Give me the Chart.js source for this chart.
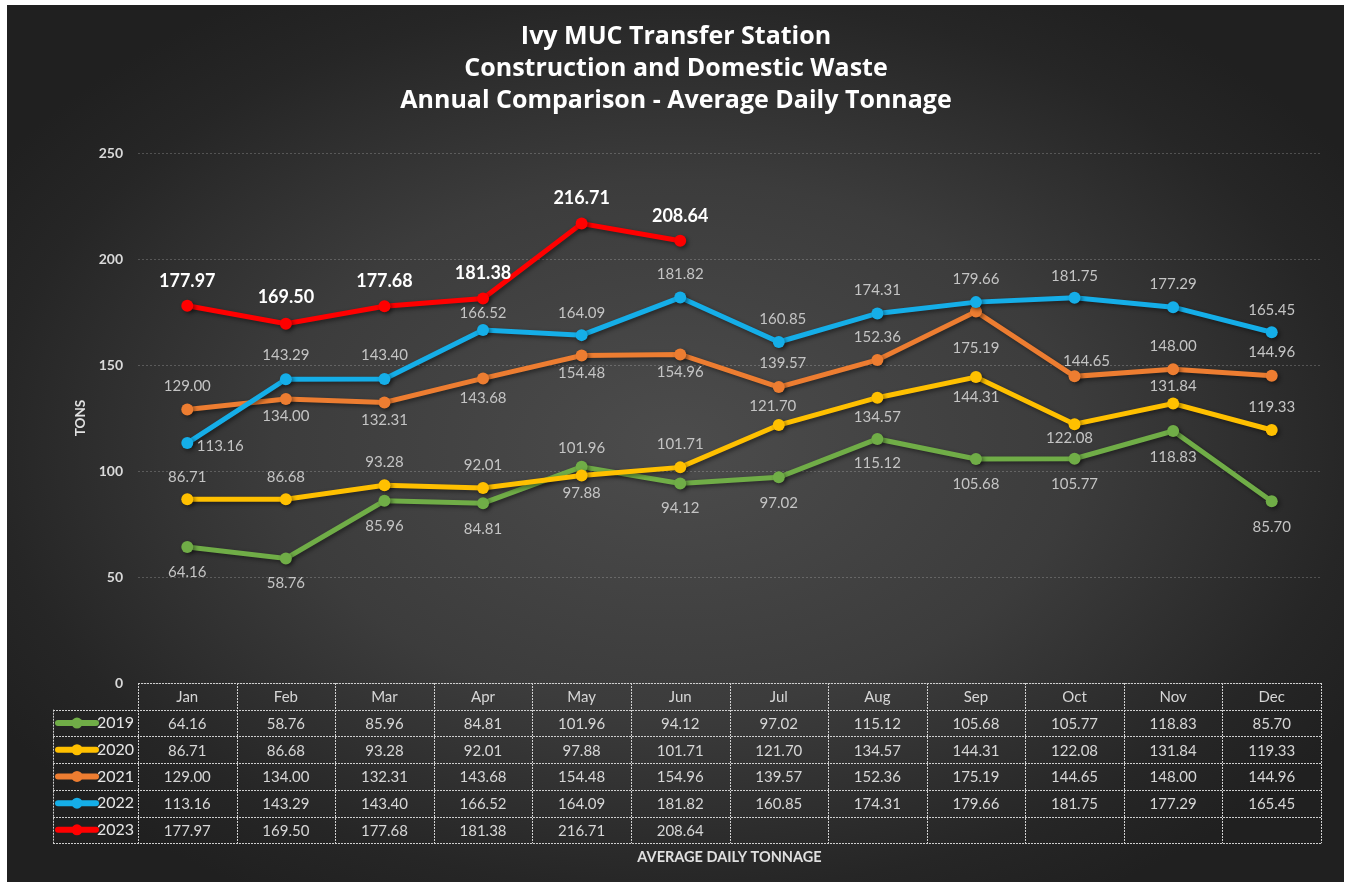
<!DOCTYPE html>
<html>
<head>
<meta charset="utf-8">
<script src="https://cdn.jsdelivr.net/npm/chart.js@4.4.1/dist/chart.umd.min.js"></script>
<style>
  html, body { margin: 0; padding: 0; background: #ffffff; }
  #bg {
    position: absolute; left: 7px; top: 5px; width: 1337px; height: 877px;
    background: radial-gradient(ellipse 60% 60% at 50% 50%, #4c4c4c 0%, #3c3c3c 50%, #262626 85%, #202020 100%);
  }
  #wrap { position: absolute; left: 0; top: 0; width: 1348px; height: 882px; }
</style>
</head>
<body>
<div id="bg"></div>
<div id="wrap"><canvas id="tonnage_chart" width="1348" height="882"></canvas></div>
<script>
const months = ['Jan', 'Feb', 'Mar', 'Apr', 'May', 'Jun', 'Jul', 'Aug', 'Sep', 'Oct', 'Nov', 'Dec'];
const years = ['2019', '2020', '2021', '2022', '2023'];

const tons2019 = [64.16, 58.76, 85.96, 84.81, 101.96, 94.12, 97.02, 115.12, 105.68, 105.77, 118.83, 85.70];
const tons2020 = [86.71, 86.68, 93.28, 92.01, 97.88, 101.71, 121.70, 134.57, 144.31, 122.08, 131.84, 119.33];
const tons2021 = [129.00, 134.00, 132.31, 143.68, 154.48, 154.96, 139.57, 152.36, 175.19, 144.65, 148.00, 144.96];
const tons2022 = [113.16, 143.29, 143.40, 166.52, 164.09, 181.82, 160.85, 174.31, 179.66, 181.75, 177.29, 165.45];
const tons2023 = [177.97, 169.50, 177.68, 181.38, 216.71, 208.64];

const yTicks = [0, 50, 100, 150, 200, 250];

const colors = ['#70ad47', '#ffc000', '#ed7d31', '#15aee8', '#ff0000'];

// label offsets from the point (px), per series
const labelDy = [
  [25, 25, 25, 26, -19, 25, 26, 24, 25, 25, 26, 26],
  [-22, -22, -23, -23, 18, -23, -19, 19, 20, 14, -17, -23],
  [-23, 17, 18, 20, 18, 18, -24, -23, 37, -15, -23, -24],
  [3, -24, -24, -17, -22, -23, -23, -23, -23, -22, -23, -22],
  [-25, -26, -25, -25, -25, -24]
];
const labelDx = [
  [0, 0, 0, 0, 0, 0, 0, 0, 0, 0, 0, 0],
  [0, 0, 0, 0, 0, 0, -6, 0, 0, -5, 0, 0],
  [0, 0, 0, 0, 0, 0, 4, 0, 0, 12, 0, 0],
  [33, 0, 0, 0, 0, 0, 4, 0, 0, 0, 0, 0],
  [0, 0, 0, 0, 0, 0]
];

const allSeries = [tons2019, tons2020, tons2021, tons2022, tons2023];

const datasets = years.map((yr, i) => ({
  label: yr,
  data: allSeries[i],
  borderColor: colors[i],
  backgroundColor: colors[i],
  pointBackgroundColor: colors[i],
  pointBorderColor: colors[i],
  borderWidth: 5,
  pointRadius: 6,
  pointBorderWidth: 0,
  tension: 0,
  order: 5 - i
}));

const shadowPlugin = {
  id: 'lineShadow',
  beforeDatasetDraw(chart) {
    const ctx = chart.ctx;
    ctx.save();
    ctx.shadowColor = 'rgba(0,0,0,0.45)';
    ctx.shadowBlur = 4;
    ctx.shadowOffsetX = 2;
    ctx.shadowOffsetY = 2;
  },
  afterDatasetDraw(chart) {
    chart.ctx.restore();
  }
};

const labelPlugin = {
  id: 'pointLabels',
  afterDatasetsDraw(chart) {
    const ctx = chart.ctx;
    ctx.save();
    ctx.textAlign = 'center';
    ctx.textBaseline = 'middle';
    chart.data.datasets.forEach((ds, i) => {
      const meta = chart.getDatasetMeta(i);
      const last = i === 4;
      ctx.font = last ? 'bold 18px Lato' : '15px Lato';
      ctx.fillStyle = last ? '#ffffff' : '#c4c4c4';
      meta.data.forEach((pt, j) => {
        const v = ds.data[j];
        if (v == null) return;
        ctx.fillText(v.toFixed(2), pt.x + labelDx[i][j], pt.y + labelDy[i][j]);
      });
    });
    ctx.restore();
  }
};

const tablePlugin = {
  id: 'dataTable',
  afterDraw(chart) {
    const ctx = chart.ctx;
    const xs = chart.scales.x;
    const left = xs.left, right = xs.right;
    const colW = (right - left) / months.length;
    const top = chart.chartArea.bottom;
    const rowH = 26.7;
    const keyLeft = 53;
    const bottom = top + rowH * (years.length + 1);

    ctx.save();
    ctx.strokeStyle = '#cfcfcf';
    ctx.lineWidth = 1;
    ctx.setLineDash([2, 1]);
    ctx.beginPath();
    // horizontal lines
    ctx.moveTo(left, top + 0.5); ctx.lineTo(right, top + 0.5);
    for (let r = 1; r <= years.length + 1; r++) {
      const y = Math.round(top + r * rowH) + 0.5;
      ctx.moveTo(keyLeft, y); ctx.lineTo(right, y);
    }
    // vertical lines
    for (let c = 0; c <= months.length; c++) {
      const x = Math.round(left + c * colW) + 0.5;
      ctx.moveTo(x, top); ctx.lineTo(x, bottom);
    }
    ctx.moveTo(keyLeft + 0.5, top + rowH); ctx.lineTo(keyLeft + 0.5, bottom);
    ctx.stroke();
    ctx.setLineDash([]);

    ctx.textAlign = 'center';
    ctx.textBaseline = 'middle';
    ctx.font = '15px Lato';
    ctx.fillStyle = '#d6d6d6';
    months.forEach((m, c) => {
      ctx.fillText(m, left + (c + 0.5) * colW, top + rowH / 2 + 1);
    });

    allSeries.forEach((series, r) => {
      const yMid = top + (r + 1.5) * rowH + 1;
      ctx.font = '15px Lato';
      ctx.fillStyle = '#d6d6d6';
      ctx.textAlign = 'center';
      series.forEach((v, c) => {
        ctx.fillText(v.toFixed(2), left + (c + 0.5) * colW, yMid);
      });
      // legend key
      ctx.strokeStyle = colors[r];
      ctx.lineWidth = 6;
      ctx.lineCap = 'round';
      ctx.beginPath();
      ctx.moveTo(58, yMid - 1); ctx.lineTo(96, yMid - 1);
      ctx.stroke();
      ctx.fillStyle = colors[r];
      ctx.beginPath();
      ctx.arc(77, yMid - 1, 5.5, 0, Math.PI * 2);
      ctx.fill();
      ctx.fillStyle = '#e6e6e6';
      ctx.font = '16px Lato';
      ctx.textAlign = 'right';
      ctx.fillText(years[r], 134, yMid - 1);
    });

    ctx.textAlign = 'center';
    ctx.font = 'bold 14.5px Lato';
    ctx.fillStyle = '#e0e0e0';
    ctx.fillText('AVERAGE DAILY TONNAGE', (left + right) / 2, 857);
    ctx.restore();
  }
};

new Chart(document.getElementById('tonnage_chart'), {
  type: 'line',
  data: { labels: months, datasets: datasets },
  options: {
    responsive: false,
    animation: false,
    layout: { padding: { left: 31, right: 27, top: 0, bottom: 199 } },
    plugins: {
      legend: { display: false },
      tooltip: { enabled: false },
      title: {
        display: true,
        text: ['Ivy MUC Transfer Station', 'Construction and Domestic Waste', 'Annual Comparison - Average Daily Tonnage'],
        color: '#ffffff',
        font: { family: 'Open Sans', size: 25, weight: 'bold', lineHeight: 1.28 },
        padding: { top: 21, bottom: 36 }
      }
    },
    scales: {
      x: {
        offset: true,
        grid: { display: false },
        border: { display: false },
        ticks: { display: false },
        afterFit(axis) { axis.height = 0; }
      },
      y: {
        min: yTicks[0],
        max: yTicks[yTicks.length - 1],
        afterBuildTicks(axis) { axis.ticks = yTicks.map(v => ({ value: v })); },
        grid: { color: 'rgba(255,255,255,0.2)', drawTicks: false },
        border: { display: false, dash: [2, 2] },
        ticks: {
          color: '#d9d9d9',
          padding: 15,
          font: { family: 'Lato', size: 14, weight: 'bold' }
        },
        title: {
          display: true,
          text: 'TONS',
          color: '#e0e0e0',
          font: { family: 'Lato', size: 13.5, weight: 'bold' },
          padding: { top: 42, bottom: 0 }
        },
        afterFit(axis) { axis.width = 107; }
      }
    }
  },
  plugins: [shadowPlugin, labelPlugin, tablePlugin]
});
</script>
</body>
</html>
